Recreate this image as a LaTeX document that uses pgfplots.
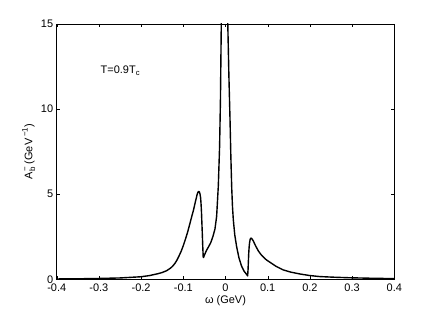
\documentclass[border=0pt]{standalone}
\usepackage{fontspec}
\setmainfont{Liberation Sans}
\usepackage{pgfplots}
\pgfplotsset{compat=1.18}
\begin{document}
\begin{tikzpicture}
\begin{axis}[
  scale only axis,
  width=337.6bp, height=255.3bp,
  xmin=-0.4, xmax=0.4, ymin=0, ymax=15,
  xtick={-0.4,-0.3,...,0.4},
  ytick={0,5,10,15},
  tick align=inside,
  major tick length=3.5bp,
  tick style={black, line width=0.4pt},
  axis line style={line width=0.5pt},
  /pgf/number format/assume math mode=true,
  xticklabel style={/pgf/number format/fixed, /pgf/number format/precision=1, yshift=-1bp},
  tick label style={font=\fontsize{11}{13}\selectfont},
  label style={font=\fontsize{11}{13}\selectfont},
  xlabel={ω (GeV)},
  ylabel={A\rlap{\raisebox{-0.45ex}{\footnotesize b}}\raisebox{0.85ex}{\footnotesize −} (GeV\,\raisebox{0.85ex}{\footnotesize −1})},
  xlabel style={yshift=3bp},
  ylabel style={yshift=-1bp},
]
\addplot[black, line width=1.4pt, line join=round] coordinates {
(-0.400,0.02) (-0.350,0.03) (-0.300,0.05) (-0.250,0.08) (-0.200,0.15)
(-0.180,0.22) (-0.160,0.33) (-0.150,0.40) (-0.140,0.50) (-0.130,0.66) (-0.125,0.78) (-0.120,0.93)
(-0.115,1.13) (-0.110,1.38) (-0.105,1.65) (-0.100,1.98) (-0.095,2.35) (-0.090,2.75) (-0.086,3.12) (-0.082,3.5) (-0.079,3.78) (-0.076,4.05)
(-0.073,4.38) (-0.070,4.7) (-0.067,5.0) (-0.065,5.13) (-0.0635,5.17) (-0.062,5.14) (-0.0605,5.02) (-0.059,4.8)
(-0.058,4.45) (-0.057,4.0) (-0.056,3.35) (-0.055,2.7) (-0.054,2.0) (-0.0528,1.3) (-0.052,1.28) (-0.050,1.42)
(-0.045,1.7) (-0.040,1.92) (-0.035,2.15) (-0.030,2.5) (-0.025,2.95)
(-0.021,3.7) (-0.017,5.5) (-0.014,7.8) (-0.012,10.5) (-0.010,15)
(-0.006,24) (-0.002,30) (0.002,24) (0.005,15.5) (0.008,12)
(0.0107,9.4) (0.0127,7.2) (0.0147,5.4) (0.0165,4.3) (0.0185,3.5) (0.022,2.6)
(0.0265,1.9) (0.032,1.25) (0.038,0.78) (0.044,0.48) (0.049,0.32)
(0.0525,0.2) (0.0535,0.6) (0.055,1.5) (0.056,1.9) (0.057,2.15) (0.0585,2.35) (0.060,2.42)
(0.062,2.4) (0.064,2.33) (0.066,2.25) (0.071,1.98) (0.078,1.66) (0.084,1.46) (0.090,1.3)
(0.097,1.14) (0.1055,1.0) (0.120,0.76) (0.137,0.55) (0.155,0.42) (0.177,0.31)
(0.200,0.22) (0.224,0.16) (0.260,0.12) (0.295,0.09) (0.350,0.06)
(0.400,0.04)
};
\node[anchor=west, font=\fontsize{11}{13}\selectfont] at (axis cs:-0.304,12.25) {T=0.9T\textsubscript{c}};
\coordinate (bl) at (rel axis cs:0,0);
\coordinate (tr) at (rel axis cs:1,1);
\end{axis}
\path ([xshift=-56.7bp,yshift=-35.7bp]bl) rectangle ([xshift=41.7bp,yshift=24bp]tr);
\end{tikzpicture}
\end{document}
